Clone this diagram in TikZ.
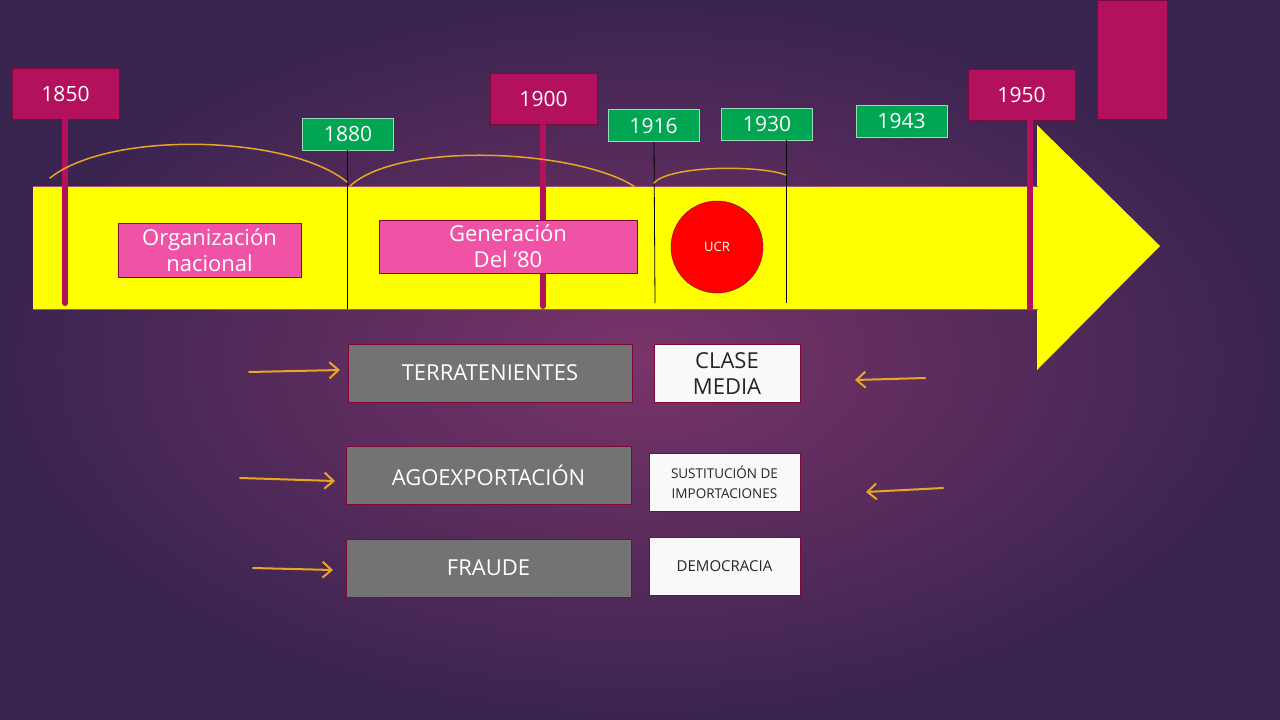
\documentclass[tikz,border=0pt]{standalone}
\usepackage{fontspec}
\setmainfont{Open Sans}
\usetikzlibrary{arrows.meta}
\definecolor{bgA}{HTML}{3A2450}
\definecolor{bgB}{HTML}{7A3468}
\definecolor{mag}{HTML}{B3115E}
\definecolor{magd}{HTML}{7A0A3A}
\definecolor{grn}{HTML}{00A651}
\definecolor{pnk}{HTML}{F052A6}
\definecolor{gry}{HTML}{737373}
\definecolor{org}{HTML}{E8A526}
\definecolor{ylw}{HTML}{FFFF00}
\begin{document}
\begin{tikzpicture}[x=1pt,y=-1pt,
  year/.style={draw=magd,fill=mag,text=white,minimum width=107pt,minimum height=51pt,font=\fontsize{21}{21}\selectfont,inner sep=0pt},
  gyear/.style={draw=white!60!grn,fill=grn,text=white,minimum width=91pt,minimum height=32pt,font=\fontsize{21}{21}\selectfont,inner sep=0pt},
  pole/.style={line width=6pt,draw=mag,line cap=round},
  thin/.style={draw=black,line width=0.8pt},
  pinkbox/.style={draw=magd,fill=pnk,text=white,font=\fontsize{22}{26}\selectfont,align=center,inner sep=0pt},
  graybox/.style={draw=magd,fill=gry,text=white,font=\fontsize{22}{24}\selectfont,align=center,inner sep=0pt,minimum height=58pt},
  whitebox/.style={draw=magd,fill=white!95!gray,text=black!85,align=center,inner sep=0pt,minimum width=150pt,minimum height=58pt},
  hand/.style={draw=org,line width=2pt,line cap=round},
  harrow/.style={hand,-{Straight Barb[length=9pt,width=16pt]}}]
\useasboundingbox (0,0) rectangle (1280,720);
\shade[inner color=bgB,outer color=bgA] (0,0) rectangle (1280,720);
% timeline arrow
\fill[ylw] (33,186) rectangle (1038,309);
\fill[ylw] (1037,125) -- (1160,246) -- (1037,370) -- cycle;
\draw[magd!70,line width=0.8pt] (33,186) -- (1038,186) (33,309) -- (1038,309);
% poles
\node[year] (y1850) at (65.5,93.5) {1850};
\node[year] (y1900) at (543.5,99) {1900};
\node[year] (y1950) at (1021.5,95) {1950};
\coordinate (p1850) at (65,303);
\coordinate (p1900) at (543,306);
\coordinate (p1950) at (1030,308);
\draw[pole] (65,120) -- (p1850);
\draw[pole] (543,126) -- (p1900);
\draw[pole] (1030,121) -- (p1950);
\fill[mag,draw=magd] (1097,0) rectangle (1167,119);
% green years
\node[gyear] (y1880) at (348,134) {1880};
\node[gyear] (y1916) at (653.5,125.5) {1916};
\node[gyear] (y1930) at (767,124) {1930};
\node[gyear] (y1943) at (901.5,121) {1943};
\coordinate (b1880) at (347,309);
\coordinate (b1916) at (655,303);
\coordinate (b1930) at (786,303);
\draw[thin] (y1880.south -| 347,0) -- (b1880);
\draw[thin] (654,142) -- (b1916);
\draw[thin] (786,140) -- (b1930);
% curves
\draw[hand,line width=1.5pt] (50,178) .. controls (110,130) and (290,135) .. (347,182);
\draw[hand,line width=1.5pt] (350,186) .. controls (400,140) and (580,150) .. (635,187);
\draw[hand,line width=1.5pt] (654,183) .. controls (670,165) and (760,165) .. (786,175);
% pink boxes
\node[pinkbox,minimum width=183pt,minimum height=54pt] (org) at (209.5,250) {Organización\\nacional};
\node[pinkbox,minimum width=258pt,minimum height=53pt] (gen) at (508,246.5) {Generación\\Del ‘80};
\node[circle,draw=magd,fill=red,text=white,minimum size=92pt,inner sep=0pt,font=\fontsize{13}{13}\selectfont] (ucr) at (717,247) {UCR};
% gray boxes
\node[graybox,minimum width=284pt] (terr) at (490,373) {TERRATENIENTES};
\node[graybox,minimum width=285pt] (agro) at (488.5,475.5) {AGOEXPORTACIÓN};
\node[graybox,minimum width=285pt] (fraude) at (488.5,568) {FRAUDE};
% white boxes
\node[whitebox,minimum width=146pt,font=\fontsize{22}{26}\selectfont] (clase) at (727,373.5) {CLASE\\MEDIA};
\node[whitebox,minimum width=151pt,font=\fontsize{13.5}{20}\selectfont] (sust) at (724.5,482) {SUSTITUCIÓN DE\\IMPORTACIONES};
\node[whitebox,minimum width=151pt,font=\fontsize{15}{16}\selectfont] (demo) at (724.5,566) {DEMOCRACIA};
% hand arrows
\coordinate (a1) at (249,372); \coordinate (a1e) at (340,370);
\coordinate (a2) at (240,478); \coordinate (a2e) at (335,481);
\coordinate (a3) at (253,568); \coordinate (a3e) at (333,570);
\coordinate (a4) at (925,378); \coordinate (a4e) at (855,380);
\coordinate (a5) at (943,488); \coordinate (a5e) at (866,492);
\draw[harrow] (a1) -- (a1e);
\draw[harrow] (a2) -- (a2e);
\draw[harrow] (a3) -- (a3e);
\draw[harrow] (a4) -- (a4e);
\draw[harrow] (a5) -- (a5e);
\end{tikzpicture}
\end{document}
